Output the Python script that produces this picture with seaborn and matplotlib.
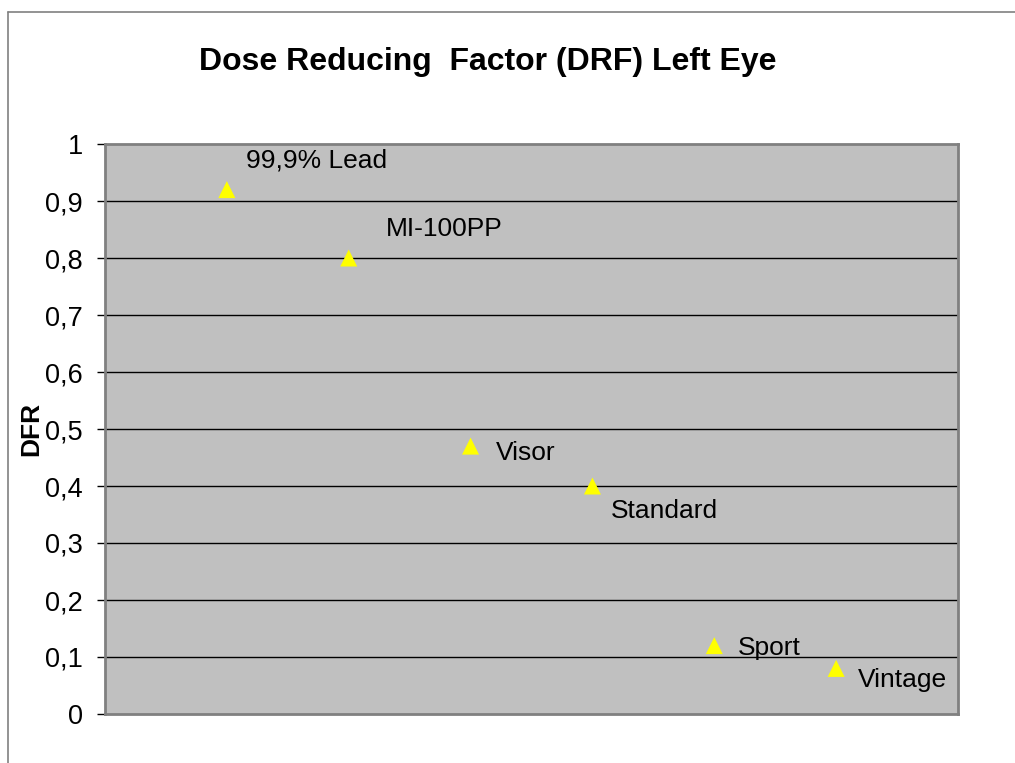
import pandas as pd
import matplotlib.pyplot as plt
import seaborn as sns

# data
products = ['99,9% Lead', 'MI-100PP', 'Visor', 'Standard', 'Sport', 'Vintage']
positions = [1, 2, 3, 4, 5, 6]
drf = [0.92, 0.80, 0.47, 0.40, 0.12, 0.08]
y_ticks = [0, 0.1, 0.2, 0.3, 0.4, 0.5, 0.6, 0.7, 0.8, 0.9, 1]
y_tick_labels = ['0', '0,1', '0,2', '0,3', '0,4', '0,5', '0,6', '0,7', '0,8', '0,9', '1']

df = pd.DataFrame({'product': products, 'pos': positions, 'drf': drf})

# label offsets in points (dx, dy) relative to marker
label_offsets = [(14, 21), (27, 21), (18, -5), (13, -18), (17, -2), (16, -8)]

sns.set_style('white')
plt.rcParams['font.family'] = ['Liberation Sans', 'DejaVu Sans']
plt.rcParams['text.color'] = 'black'
plt.rcParams['axes.labelcolor'] = 'black'
plt.rcParams['ytick.color'] = 'black'

fig = plt.figure(figsize=(10.15, 7.63), dpi=100)
ax = fig.add_axes([105 / 1015, 1 - 714 / 763, 853 / 1015, 570 / 763])
ax.set_facecolor('#C0C0C0')

sns.scatterplot(data=df, x='pos', y='drf', marker='^', s=150, color='#FFFF00',
                edgecolor='none', ax=ax, zorder=3)

for (_, row), (dx, dy) in zip(df.iterrows(), label_offsets):
    ax.annotate(row['product'], (row['pos'], row['drf']), xytext=(dx, dy),
                textcoords='offset points', fontsize=19, va='center', ha='left')

ax.set_xlim(0, 7)
ax.set_ylim(0, 1)
ax.set_xticks([])
ax.set_yticks(y_ticks)
ax.set_yticklabels(y_tick_labels, fontsize=19.5)
ax.tick_params(axis='y', direction='out', length=6, width=1, color='black', pad=10, left=True)
for y in y_ticks[1:-1]:
    ax.axhline(y, color='black', linewidth=1, zorder=1)

for side in ['top', 'right', 'bottom', 'left']:
    ax.spines[side].set_visible(True)
    ax.spines[side].set_color('#808080')
    ax.spines[side].set_linewidth(2)

ax.set_xlabel('')
ax.set_ylabel('DFR', fontsize=19, fontweight='bold')
ax.yaxis.set_label_coords(-0.0727, 0.5)

fig.text(488 / 1015, 1 - 62 / 763, 'Dose Reducing  Factor (DRF) Left Eye', fontsize=23,
         fontweight='bold', ha='center', va='center')

# outer chart border (only top and left visible)
fig.add_artist(plt.Line2D([8 / 1015, 8 / 1015], [0, 1 - 12 / 763], color='#808080', linewidth=1.2))
fig.add_artist(plt.Line2D([8 / 1015, 1], [1 - 12 / 763, 1 - 12 / 763], color='#808080', linewidth=1.2))

fig.savefig('out.png', dpi=100)
plt.close(fig)
